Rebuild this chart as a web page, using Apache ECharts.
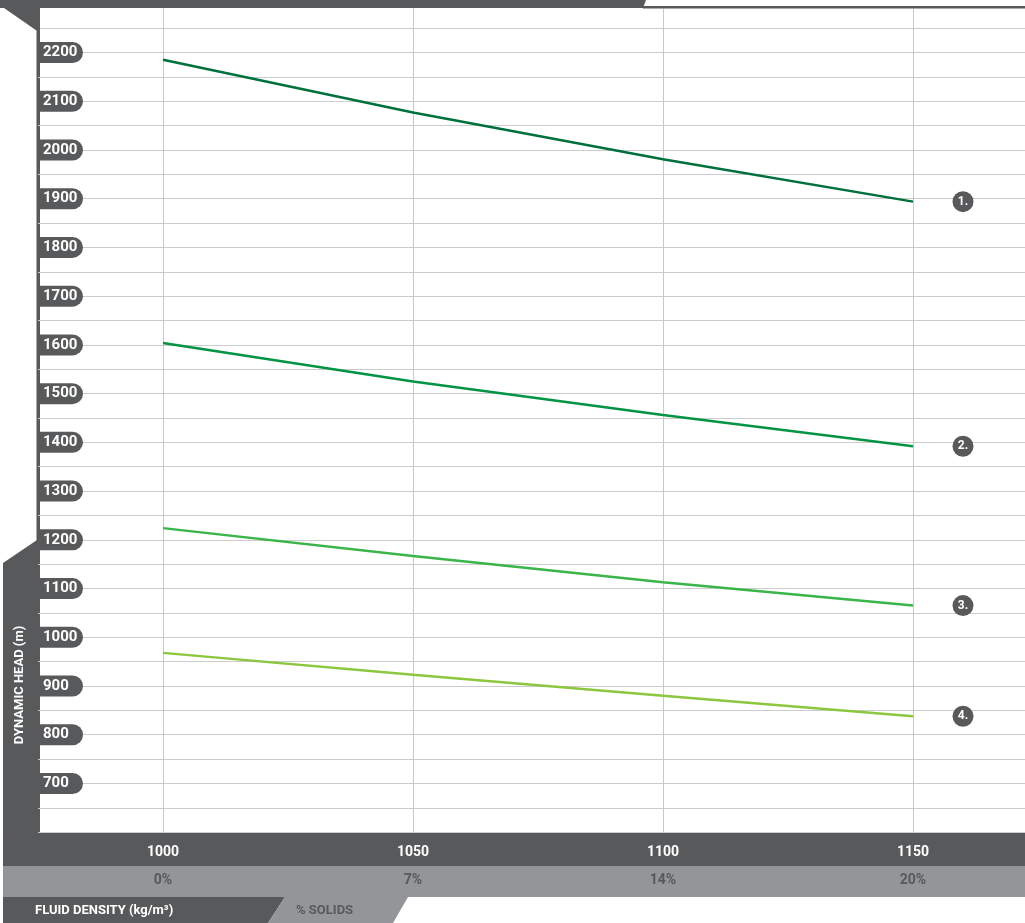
<!DOCTYPE html>
<html>
<head>
<meta charset="utf-8">
<script src="https://cdn.jsdelivr.net/npm/echarts@6/dist/echarts.min.js"></script>
<style>
html,body{margin:0;padding:0;background:#fff;}
#chart{width:1025px;height:923px;}
</style>
</head>
<body>
<div id="chart"></div>
<script>
// ---- data ----
var densities = [1000, 1050, 1100, 1150];
var solids = ['0%', '7%', '14%', '20%'];
var curveNames = ['1.', '2.', '3.', '4.'];
var head1 = [2185, 2077, 1981, 1894];
var head2 = [1604, 1525, 1456, 1392];
var head3 = [1224, 1167, 1113, 1065];
var head4 = [968, 923, 880, 838];
var yLabelValues = [700, 800, 900, 1000, 1100, 1200, 1300, 1400, 1500, 1600, 1700, 1800, 1900, 2000, 2100, 2200];
var yTitle = 'DYNAMIC HEAD (m)';
var xTitle = 'FLUID DENSITY (kg/m³)';
var x2Title = '% SOLIDS';

var DARK = '#58595b';
var MID = '#939598';
var FONT = "Roboto, 'Noto Sans', sans-serif";
var colors = ['#00703c', '#009444', '#39b54a', '#8dc63f'];
var heads = [head1, head2, head3, head4];

function pairs(vals) {
  return densities.map(function (d, i) { return [d, vals[i]]; });
}

var series = heads.map(function (vals, k) {
  return {
    type: 'line',
    name: curveNames[k],
    data: pairs(vals),
    showSymbol: false,
    symbol: 'none',
    smooth: false,
    z: 5,
    lineStyle: { color: colors[k], width: 2.5 },
    itemStyle: { color: colors[k] },
    endLabel: {
      show: true,
      formatter: function (p) { return p.seriesName; },
      distance: 50,
      backgroundColor: DARK,
      borderRadius: 10.5,
      width: 21,
      height: 21,
      lineHeight: 21,
      align: 'center',
      color: '#fff',
      fontFamily: FONT,
      fontWeight: 'bold',
      fontSize: 12
    },
    emphasis: { disabled: true }
  };
});

var chart = echarts.init(document.getElementById('chart'), null, { renderer: 'canvas' });

chart.setOption({
  animation: false,
  backgroundColor: '#fff',
  grid: { left: 38, top: 3.8, width: 1000, bottom: 90.8, containLabel: false, outerBoundsMode: 'none' },
  xAxis: {
    type: 'value',
    min: 975,
    max: 1175,
    interval: 25,
    axisLine: { show: false },
    axisTick: { show: false },
    splitLine: { show: true, lineStyle: { color: ['rgba(0,0,0,0)', '#c8c8c8'], width: 1 } },
    axisLabel: {
      margin: 6,
      formatter: function (v) {
        var i = densities.indexOf(v);
        if (i < 0) return '';
        return '{a|' + v + '}\n{b|' + solids[i] + '}';
      },
      rich: {
        a: { color: '#fff', fontFamily: FONT, fontWeight: 'bold', fontSize: 14, lineHeight: 28 },
        b: { color: DARK, fontFamily: FONT, fontWeight: 'bold', fontSize: 14, lineHeight: 28 }
      }
    }
  },
  yAxis: {
    type: 'value',
    min: 600,
    max: 2300,
    interval: 50,
    axisLine: { show: false },
    axisTick: { show: false },
    splitLine: { show: true, lineStyle: { color: '#cccccc', width: 1 } },
    axisLabel: {
      inside: true,
      margin: 0,
      formatter: function (v) {
        return yLabelValues.indexOf(v) >= 0 ? '{p|' + v + '}' : '';
      },
      rich: {
        p: {
          color: '#fff',
          fontFamily: FONT,
          fontWeight: 'bold',
          fontSize: 15,
          backgroundColor: DARK,
          borderRadius: [0, 10.5, 10.5, 0],
          padding: [3, 6, 3, 5],
          width: 34,
          height: 15,
          lineHeight: 15,
          align: 'left'
        }
      }
    }
  },
  series: series,
  graphic: [
    // lower panels (under axis labels)
    { type: 'polygon', z: -10, shape: { points: [[3, 563], [40, 538], [40, 866], [3, 866]] }, style: { fill: DARK } },
    { type: 'rect', z: -10, shape: { x: 3, y: 832.2, width: 1022, height: 34 }, style: { fill: DARK } },
    { type: 'rect', z: -10, shape: { x: 3, y: 866, width: 1022, height: 31 }, style: { fill: MID } },
    { type: 'polygon', z: -10, shape: { points: [[3, 897], [285, 897], [268, 923], [3, 923]] }, style: { fill: DARK } },
    { type: 'polygon', z: -10, shape: { points: [[285, 897], [408, 897], [393, 923], [268, 923]] }, style: { fill: MID } },
    { type: 'rect', z: -10, shape: { x: 36.5, y: 8, width: 3.5, height: 858 }, style: { fill: DARK } },
    // top covers
    { type: 'rect', z: 100, shape: { x: 600, y: 0, width: 425, height: 8.5 }, style: { fill: '#fff' } },
    { type: 'polygon', z: 101, shape: { points: [[0, 0], [646, 0], [643, 8], [0, 8]] }, style: { fill: DARK } },
    { type: 'rect', z: 101, shape: { x: 643, y: 6, width: 382, height: 2.5 }, style: { fill: DARK } },
    { type: 'polygon', z: 101, shape: { points: [[4, 8], [40, 8], [40, 33]] }, style: { fill: DARK } },
    // titles
    { type: 'text', z: 102, x: 20, y: 685, rotation: Math.PI / 2,
      style: { text: yTitle, fill: '#fff', font: 'bold 13px ' + FONT, align: 'center', verticalAlign: 'middle' } },
    { type: 'text', z: 102, x: 35, y: 911,
      style: { text: xTitle, fill: '#fff', font: 'bold 13px ' + FONT, align: 'left', verticalAlign: 'middle' } },
    { type: 'text', z: 102, x: 296, y: 911,
      style: { text: x2Title, fill: DARK, font: 'bold 13px ' + FONT, align: 'left', verticalAlign: 'middle' } }
  ]
});
</script>
</body>
</html>
